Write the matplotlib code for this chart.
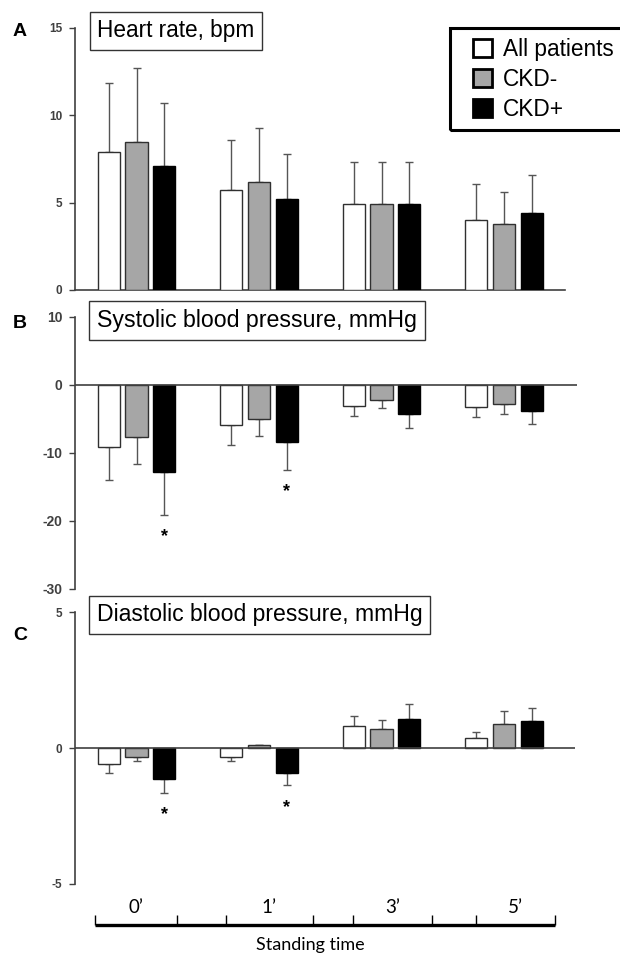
import matplotlib
matplotlib.use("Agg")
import matplotlib.pyplot as plt
from matplotlib.patches import Patch, Rectangle
import numpy as np

# ---------------- data ----------------
times = ["0\u2019", "1\u2019", "3\u2019", "5\u2019"]
groups = ["All patients", "CKD-", "CKD+"]

hr_all = [7.9, 5.7, 4.95, 4.0]
hr_neg = [8.5, 6.2, 4.95, 3.75]
hr_pos = [7.1, 5.2, 4.95, 4.4]
hr_sd_all = [3.95, 2.9, 2.4, 2.05]
hr_sd_neg = [4.2, 3.1, 2.4, 1.85]
hr_sd_pos = [3.6, 2.6, 2.4, 2.2]

sbp_all = [-9.2, -5.9, -3.1, -3.3]
sbp_neg = [-7.7, -5.0, -2.3, -2.9]
sbp_pos = [-12.9, -8.4, -4.3, -3.9]
sbp_sd_all = [4.8, 2.9, 1.5, 1.5]
sbp_sd_neg = [3.9, 2.5, 1.2, 1.35]
sbp_sd_pos = [6.2, 4.1, 2.0, 1.9]
sbp_sig_pos = [True, True, False, False]

dbp_all = [-0.6, -0.32, 0.8, 0.38]
dbp_neg = [-0.32, 0.1, 0.69, 0.9]
dbp_pos = [-1.14, -0.93, 1.08, 0.99]
dbp_sd_all = [0.32, 0.14, 0.38, 0.2]
dbp_sd_neg = [0.14, 0.03, 0.35, 0.45]
dbp_sd_pos = [0.5, 0.44, 0.55, 0.49]
dbp_sig_pos = [True, True, False, False]

hr_ticks = [0, 5, 10, 15]
sbp_ticks = [-30, -20, -10, 0, 10]
dbp_ticks = [-5, 0, 5]

# ---------------- style ----------------
W, H = 620, 960
plt.rcParams['font.family'] = ['Liberation Sans', 'DejaVu Sans']
plt.rcParams['axes.unicode_minus'] = False
fig = plt.figure(figsize=(W / 100, H / 100), dpi=100)

fills = ["white", "#a6a6a6", "black"]
edges = ["#303030", "#303030", "black"]
spine_c = "#404040"
err_c = "#555555"
bar_w = 0.18
step = 0.225
x0_px, gx_px = 136.5, 122.5   # pixel of group 0 centre, pixel spacing


def px_rect(l, t, r, b):
    return [l / W, 1 - b / H, (r - l) / W, (b - t) / H]


def xlim_for(l, r):
    return ((l - x0_px) / gx_px, (r - x0_px) / gx_px)


def panel(rect, xr, ylim, ticks, series, sds, sig=None, baseline_spine=False,
          labelsize=8.5):
    ax = fig.add_axes(rect)
    ax.set_xlim(*xlim_for(*xr))
    ax.set_ylim(*ylim)
    x = np.arange(len(times))
    for i, (vals, sd) in enumerate(zip(series, sds)):
        vals = np.asarray(vals)
        sd = np.asarray(sd)
        xi = x + (i - 1) * step
        ax.bar(xi, vals, bar_w, color=fills[i], edgecolor=edges[i],
               linewidth=1.0, zorder=3)
        lower = np.where(vals < 0, sd, 0)
        upper = np.where(vals >= 0, sd, 0)
        ax.errorbar(xi, vals, yerr=[lower, upper], fmt='none', ecolor=err_c,
                    elinewidth=1.0, capsize=3, capthick=1.0, zorder=2)
        if sig is not None and i == 2:
            for xx, v, s, flag in zip(xi, vals, sd, sig):
                if flag:
                    ax.annotate("*", xy=(xx, v - s), xytext=(0, -16),
                                textcoords="offset points", ha="center",
                                va="center", fontsize=13, fontweight="bold",
                                color="black")
    for s in ["top", "right"]:
        ax.spines[s].set_visible(False)
    ax.spines["left"].set_color(spine_c)
    ax.spines["left"].set_linewidth(1.2)
    if baseline_spine:
        ax.spines["bottom"].set_color(spine_c)
        ax.spines["bottom"].set_linewidth(1.2)
    else:
        ax.spines["bottom"].set_visible(False)
        ax.axhline(0, color=spine_c, lw=1.2, zorder=4)
    ax.set_xticks([])
    ax.set_yticks(ticks)
    ax.tick_params(axis="y", direction="out", length=4, width=1.0,
                   color=spine_c, labelsize=labelsize, labelcolor="#404040", pad=5)
    for lab in ax.get_yticklabels():
        lab.set_fontweight("bold")
    ax.patch.set_alpha(0)
    return ax


axA = panel(px_rect(75, 28, 565, 290), (75, 565), (0, 15), hr_ticks,
            [hr_all, hr_neg, hr_pos], [hr_sd_all, hr_sd_neg, hr_sd_pos],
            baseline_spine=True, labelsize=8.5)
axB = panel(px_rect(75, 316.7, 577, 588.7), (75, 577), (-30, 10), sbp_ticks,
            [sbp_all, sbp_neg, sbp_pos], [sbp_sd_all, sbp_sd_neg, sbp_sd_pos],
            sig=sbp_sig_pos, labelsize=10)
axC = panel(px_rect(75, 612.3, 575, 884), (75, 575), (-5, 5), dbp_ticks,
            [dbp_all, dbp_neg, dbp_pos], [dbp_sd_all, dbp_sd_neg, dbp_sd_pos],
            sig=dbp_sig_pos, labelsize=8.5)

# panel letters
for letter, ypx in [("A", 31), ("B", 324), ("C", 636)]:
    fig.text(20 / W, 1 - ypx / H, letter, fontsize=14, fontweight="bold",
             ha="center", va="center")

# title boxes
for txt, ypx, fs in [("Heart rate, bpm", 31, 16.3),
                     ("Systolic blood pressure, mmHg", 320.5, 16.7),
                     ("Diastolic blood pressure, mmHg", 615, 16.6)]:
    fig.text(97 / W, 1 - ypx / H, txt, fontsize=fs, ha="left", va="center",
             bbox=dict(boxstyle="square,pad=0.33", fc="white", ec="#333333", lw=1.0))

# legend (frame drawn separately so it runs off the right edge like the original)
handles = [Patch(facecolor=f, edgecolor="black", linewidth=2.0) for f in fills]
leg = axA.legend(handles, groups, loc="upper left",
                 bbox_to_anchor=(463 / W, 1 - 28 / H), bbox_transform=fig.transFigure,
                 fontsize=16.3, frameon=False,
                 handlelength=0.85, handleheight=0.85, handletextpad=0.45,
                 labelspacing=0.3, borderpad=0.45, borderaxespad=0)
fig.patches.append(Rectangle((450 / W, 1 - 130 / H), 180 / W, 102 / H,
                             transform=fig.transFigure, fill=False,
                             edgecolor="black", linewidth=2.2))

# bottom bracket axis
axX = fig.add_axes(px_rect(75, 890, 565, 925))
axX.set_xlim(*xlim_for(75, 565))
axX.set_ylim(0, 1)
axX.axis("off")
bracket_edges = [-0.34, 0.33, 0.73, 1.44, 1.77, 2.41, 2.77, 3.42]
axX.plot([bracket_edges[0], bracket_edges[-1]], [0, 0], color="black", lw=2.4,
         solid_capstyle="butt", clip_on=False)
axX.vlines(bracket_edges, 0, 0.3, color="black", lw=1.0, clip_on=False)
for k, t in enumerate(times):
    mid = 0.5 * (bracket_edges[2 * k] + bracket_edges[2 * k + 1])
    axX.text(mid, 0.5, t, ha="center", va="center", fontsize=13.5,
             family=["Lato", "DejaVu Sans"])
fig.text(310 / W, 1 - 945 / H, "Standing time", ha="center", va="center",
         fontsize=13, family=["Lato", "DejaVu Sans"])

fig.savefig("out.png", dpi=100)
